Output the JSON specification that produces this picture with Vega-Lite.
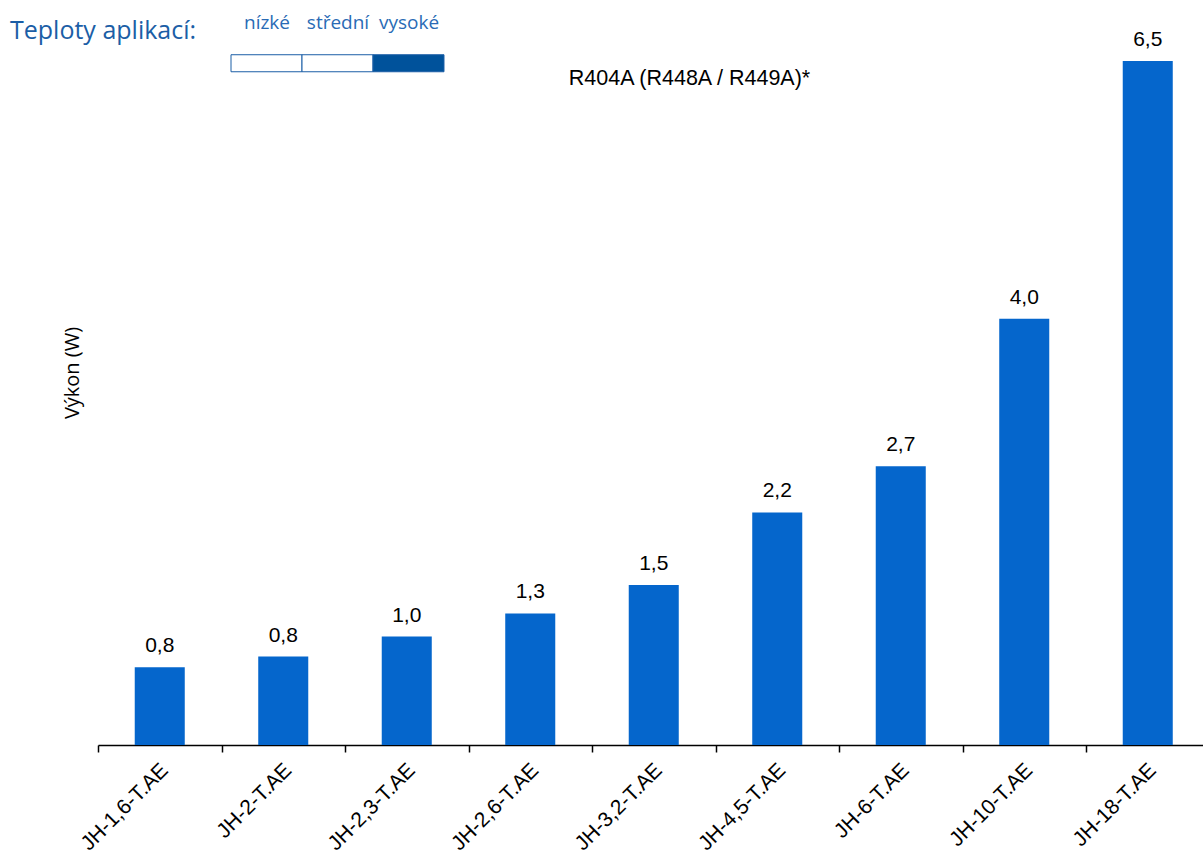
{
  "$schema": "https://vega.github.io/schema/vega-lite/v6.json",
  "width": 1105,
  "height": 745,
  "autosize": {"type": "none"},
  "padding": {"left": 98, "top": 0, "right": 0, "bottom": 106},
  "background": "white",
  "title": {
    "text": "R404A (R448A / R449A)*",
    "anchor": "middle",
    "frame": "group",
    "fontSize": 21.5,
    "font": "Liberation Sans",
    "fontWeight": "normal",
    "color": "black",
    "offset": 0,
    "dx": 39,
    "dy": 106,
    "baseline": "alphabetic"
  },
  "datasets": {
    "bars": [
      {"model": "JH-1,6-T.AE", "value": 0.74, "label": "0,8"},
      {"model": "JH-2-T.AE", "value": 0.84, "label": "0,8"},
      {"model": "JH-2,3-T.AE", "value": 1.03, "label": "1,0"},
      {"model": "JH-2,6-T.AE", "value": 1.25, "label": "1,3"},
      {"model": "JH-3,2-T.AE", "value": 1.52, "label": "1,5"},
      {"model": "JH-4,5-T.AE", "value": 2.21, "label": "2,2"},
      {"model": "JH-6-T.AE", "value": 2.65, "label": "2,7"},
      {"model": "JH-10-T.AE", "value": 4.05, "label": "4,0"},
      {"model": "JH-18-T.AE", "value": 6.5, "label": "6,5"}
    ],
    "levels": [
      {"uroven": "nízké"},
      {"uroven": "střední"},
      {"uroven": "vysoké"}
    ]
  },
  "layer": [
    {
      "data": {"name": "bars"},
      "encoding": {
        "x": {
          "field": "model",
          "type": "nominal",
          "sort": null,
          "scale": {"paddingInner": 0, "paddingOuter": 0, "range": [0, 1111.5]},
          "axis": {
            "title": null,
            "labelAngle": -45,
            "labelAlign": "right",
            "labelBaseline": "top",
            "labelFont": "Liberation Sans",
            "labelFontSize": 21,
            "labelColor": "black",
            "labelPadding": 7,
            "labelOffset": -3,
            "tickBand": "extent",
            "ticks": true,
            "tickSize": 7,
            "tickColor": "black",
            "tickWidth": 1.5,
            "domain": true,
            "domainColor": "black",
            "domainWidth": 1.5,
            "grid": false,
            "labelOverlap": false
          }
        },
        "y": {
          "field": "value",
          "type": "quantitative",
          "scale": {"domain": [0, 7.08], "nice": false},
          "axis": {
            "title": "Výkon (W)",
            "titleFont": "Open Sans",
            "titleFontSize": 20,
            "titleFontWeight": "normal",
            "titleColor": "black",
            "titlePadding": 16,
            "labels": false,
            "ticks": false,
            "domain": false,
            "grid": false
          }
        }
      },
      "layer": [
        {"mark": {"type": "bar", "color": "#0566CC", "width": {"band": 0.405}}},
        {
          "mark": {
            "type": "text",
            "font": "Liberation Sans",
            "fontSize": 21,
            "color": "black",
            "baseline": "alphabetic",
            "dy": -15
          },
          "encoding": {"text": {"field": "label"}}
        }
      ]
    },
    {
      "data": {"name": "levels"},
      "mark": {"type": "point", "filled": true, "opacity": 0},
      "encoding": {
        "color": {
          "field": "uroven",
          "type": "nominal",
          "sort": null,
          "scale": {
            "domain": ["nízké", "střední", "vysoké"],
            "range": ["#ffffff", "#ffffff", "#00529B"]
          },
          "legend": {
            "orient": "none",
            "legendX": -88,
            "legendY": 15,
            "direction": "horizontal",
            "columns": 3,
            "columnPadding": -4,
            "title": "Teploty aplikací:",
            "titleOrient": "left",
            "titleAngle": 0,
            "titleAnchor": "start",
            "titleFont": "Open Sans",
            "titleFontSize": 25,
            "titleFontWeight": "normal",
            "titleColor": "#1B5EA6",
            "titleBaseline": "line-top",
            "titleLineHeight": 33,
            "titleLimit": 400,
            "titlePadding": 56,
            "symbolType": "M-2.73,2H2.73V3.31H-2.73Z",
            "symbolSize": 676,
            "symbolStrokeColor": "#1B5EA6",
            "symbolStrokeWidth": 1,
            "symbolOpacity": 1,
            "labelFont": "Open Sans",
            "labelFontSize": 19,
            "labelColor": "#2A6BB5",
            "labelAlign": "center",
            "labelBaseline": "alphabetic",
            "labelOffset": -13,
            "labelLimit": 200
          }
        }
      }
    }
  ],
  "config": {"view": {"stroke": null}}
}
